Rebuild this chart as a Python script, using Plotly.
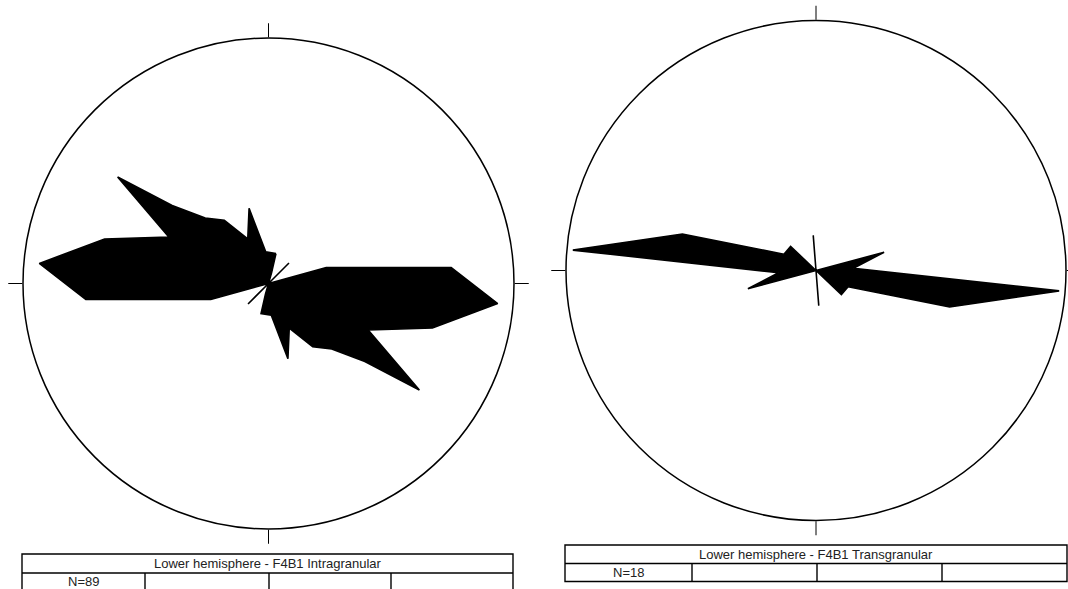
import plotly.graph_objects as go

# ---------------- data (axial rose diagrams, values in % of outer circle radius) -------------
# vertices of the half rose (azimuth 0-180, clockwise from North); each value is also
# plotted at azimuth + 180 (bidirectional orientation data)
intra_theta = [14, 16, 35, 45, 55, 74.5, 85, 95, 105.2, 115, 125.2, 129, 136, 145, 155, 165.5, 175]
intra_r = [12.6, 4.5, 0, 11.8, 0, 24.4, 74.7, 93.7, 69.2, 44.8, 75.2, 50.5, 37.1, 31.4, 20.0, 31.6, 13.0]

trans_theta = [30, 75, 86.6, 94.8, 105.3, 117, 133.5, 150, 175.5, 178]
trans_r = [0, 28.2, 15.0, 97.6, 55.4, 14.4, 14.0, 0, 14.1, 0]

titles = ["Lower hemisphere - F4B1 Intragranular", "Lower hemisphere - F4B1 Transgranular"]
counts = ["N=89", "N=18"]

# ---------------- layout helpers ----------------
W, H = 1068, 589


def px(x):
    return x / W


def py(y):
    return 1 - y / H


def full_rose(theta, r):
    th = list(theta) + [t + 180 for t in theta]
    rr = list(r) + list(r)
    return th + [th[0]], rr + [rr[0]]


fig = go.Figure()

for i, (th, rr) in enumerate([(intra_theta, intra_r), (trans_theta, trans_r)]):
    t, r = full_rose(th, rr)
    fig.add_trace(go.Scatterpolar(
        theta=t, r=r, mode="lines", fill="toself",
        fillcolor="black", line=dict(color="black", width=1.6),
        subplot="polar" if i == 0 else "polar2", showlegend=False,
        hoverinfo="skip"))

polar_common = dict(
    bgcolor="white",
    radialaxis=dict(visible=False, range=[0, 100]),
    angularaxis=dict(rotation=90, direction="clockwise", showgrid=False,
                     showline=True, linecolor="black", linewidth=1.5,
                     ticks="outside", ticklen=14, tickwidth=1.2, tickcolor="black",
                     tickvals=[0, 90, 180, 270], showticklabels=False),
)

# left circle: centre (268.5, 283.5) px, radius 245.5 ; right: centre (816, 270.5), radius 250
fig.update_layout(
    width=W, height=H, margin=dict(l=0, r=0, t=0, b=0),
    paper_bgcolor="white", plot_bgcolor="white",
    polar=dict(domain=dict(x=[px(23), px(514)], y=[py(529), py(38)]), **polar_common),
    polar2=dict(domain=dict(x=[px(566), px(1066)], y=[py(520.5), py(20.5)]), **polar_common),
)

# ---------------- tables below each rose ----------------
tables = [
    dict(x0=22, x1=513, yt=554, ym=573, yb=592, cols=[145, 269, 391]),
    dict(x0=565, x1=1067, yt=545, ym=563.5, yb=581.5, cols=[692, 817, 942]),
]
shapes = []
annotations = []
line = dict(color="black", width=1.4)
for k, tb in enumerate(tables):
    shapes.append(dict(type="rect", xref="paper", yref="paper", x0=px(tb["x0"]), x1=px(tb["x1"]),
                       y0=py(tb["yb"]), y1=py(tb["yt"]), line=line))
    shapes.append(dict(type="line", xref="paper", yref="paper", x0=px(tb["x0"]), x1=px(tb["x1"]),
                       y0=py(tb["ym"]), y1=py(tb["ym"]), line=line))
    for c in tb["cols"]:
        shapes.append(dict(type="line", xref="paper", yref="paper", x0=px(c), x1=px(c),
                           y0=py(tb["yb"]), y1=py(tb["ym"]), line=line))
    annotations.append(dict(xref="paper", yref="paper", x=px((tb["x0"] + tb["x1"]) / 2),
                            y=py((tb["yt"] + tb["ym"]) / 2), text=titles[k], showarrow=False,
                            xanchor="center", yanchor="middle",
                            font=dict(family="Liberation Sans, Arial", size=13, color="#222")))
    annotations.append(dict(xref="paper", yref="paper", x=px((tb["x0"] + tb["cols"][0]) / 2),
                            y=py((tb["ym"] + tb["yb"]) / 2 if k == 1 else tb["ym"] + 8.5),
                            text=counts[k], showarrow=False,
                            xanchor="center", yanchor="middle",
                            font=dict(family="Liberation Sans, Arial", size=13, color="#222")))

fig.update_layout(shapes=shapes, annotations=annotations)

fig.write_html("out.html", config={"displayModeBar": False},
               post_script="document.body.style.margin='0';document.body.style.overflow='hidden';")
